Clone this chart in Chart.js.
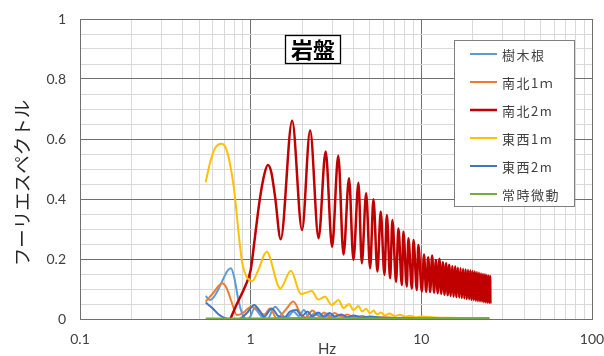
<!DOCTYPE html>
<html>
<head>
<meta charset="utf-8">
<script src="https://cdn.jsdelivr.net/npm/chart.js@4/dist/chart.umd.min.js"></script>
<style>
  html, body { margin: 0; padding: 0; background: #ffffff; }
  #wrap { width: 604px; height: 356px; position: relative; }
</style>
</head>
<body>
<div id="wrap"><canvas id="c" width="604" height="356"></canvas></div>
<script>
// Fourier spectra of the bedrock records (frequency in Hz, amplitude)
const seriesNames = ['樹木根', '南北1ｍ', '南北2m', '東西1m', '東西2m', '常時微動'];
const seriesColors = ['#5B9BD5', '#ED7D31', '#C00000', '#FFC000', '#4472C4', '#70AD47'];

const freqJumoku = [0.545, 0.577, 0.62, 0.68, 0.73, 0.766, 0.8, 0.85, 0.9, 0.95, 1.0, 1.05, 1.15, 1.25, 1.39, 1.5, 1.62, 1.78, 1.92, 2.05, 2.2, 2.4, 2.6, 2.8, 3.0, 3.3, 3.6, 4.0, 4.5, 5.0, 6.0, 8.0, 10, 15, 25];
const valJumoku  = [0.077, 0.063, 0.080, 0.125, 0.160, 0.169, 0.140, 0.060, 0.012, 0.000, 0.010, 0.035, 0.010, 0.000, 0.041, 0.020, 0.003, 0.025, 0.010, 0.030, 0.005, 0.022, 0.006, 0.018, 0.004, 0.014, 0.004, 0.010, 0.004, 0.007, 0.003, 0.004, 0.002, 0.002, 0.002];

const freqNS1 = [0.545, 0.6, 0.681, 0.72, 0.77, 0.83, 0.9, 1.0, 1.08, 1.2, 1.3, 1.42, 1.6, 1.78, 1.95, 2.1, 2.3, 2.5, 2.7, 2.9, 3.1, 3.4, 3.7, 4.0, 4.5, 5.0, 6.0, 8.0, 10, 25];
const valNS1  = [0.058, 0.085, 0.119, 0.105, 0.060, 0.013, 0.020, 0.040, 0.035, 0.015, 0.035, 0.003, 0.030, 0.058, 0.020, 0.005, 0.028, 0.010, 0.022, 0.006, 0.020, 0.008, 0.015, 0.005, 0.010, 0.004, 0.006, 0.003, 0.003, 0.002];

const freqNS2 = [0.76, 0.83, 0.93, 1.0, 1.06, 1.13, 1.2, 1.26, 1.32, 1.39, 1.5, 1.75, 2.0, 2.23, 2.5, 2.75, 3.0, 3.26, 3.5, 3.77, 4.0, 4.28, 4.48, 4.75, 5.01, 5.24, 5.53, 5.78, 6.08, 6.28, 6.56, 6.77, 7.11, 7.34, 7.69, 7.85, 8.22, 8.4, 8.8, 9.0, 9.41, 9.6, 10.07,
  10.37, 10.67, 10.97, 11.27, 11.57, 11.87, 12.17, 12.47, 12.77, 13.07, 13.37, 13.67, 13.97, 14.27, 14.57, 14.87, 15.17, 15.47, 15.77, 16.07, 16.37, 16.67, 16.97, 17.27, 17.57, 17.87, 18.17, 18.47, 18.77, 19.07, 19.37, 19.67, 19.97, 20.27, 20.57, 20.87, 21.17, 21.47, 21.77, 22.07, 22.37, 22.67, 22.97, 23.27, 23.57, 23.87, 24.17, 24.47, 24.77, 25.07, 25.3, 25.4];
const valNS2  = [0.000, 0.050, 0.110, 0.163, 0.274, 0.397, 0.480, 0.513, 0.490, 0.408, 0.266, 0.661, 0.297, 0.628, 0.269, 0.558, 0.241, 0.544, 0.215, 0.469, 0.197, 0.454, 0.186, 0.419, 0.169, 0.399, 0.158, 0.358, 0.147, 0.347, 0.136, 0.330, 0.124, 0.302, 0.113, 0.291, 0.108, 0.269, 0.102, 0.263, 0.097, 0.247, 0.092,
  0.215, 0.091, 0.206, 0.090, 0.212, 0.088, 0.197, 0.086, 0.201, 0.084, 0.189, 0.081, 0.186, 0.079, 0.181, 0.077, 0.176, 0.075, 0.175, 0.073, 0.171, 0.072, 0.169, 0.070, 0.167, 0.069, 0.165, 0.067, 0.163, 0.066, 0.162, 0.064, 0.160, 0.063, 0.158, 0.061, 0.156, 0.060, 0.154, 0.059, 0.152, 0.058, 0.150, 0.056, 0.149, 0.055, 0.147, 0.054, 0.145, 0.053, 0.143, 0.052];

const freqEW1 = [0.545, 0.577, 0.618, 0.676, 0.723, 0.774, 0.809, 0.846, 0.893, 0.947, 1.02, 1.108, 1.24, 1.49, 1.72, 1.97, 2.28, 2.49, 2.73, 2.98, 3.27, 3.5, 3.77, 4.0, 4.28, 4.5, 4.75, 5.0, 5.25, 5.5, 5.8, 6.1, 6.5, 7.0, 7.5, 8.0, 8.6, 9.2, 10, 12, 15, 20, 25];
const valEW1  = [0.456, 0.519, 0.569, 0.584, 0.563, 0.486, 0.408, 0.297, 0.186, 0.141, 0.127, 0.163, 0.224, 0.102, 0.161, 0.083, 0.093, 0.065, 0.074, 0.047, 0.063, 0.037, 0.050, 0.030, 0.043, 0.025, 0.034, 0.019, 0.028, 0.015, 0.022, 0.012, 0.018, 0.010, 0.014, 0.008, 0.011, 0.006, 0.008, 0.005, 0.004, 0.003, 0.003];

const freqEW2 = [0.545, 0.6, 0.65, 0.707, 0.75, 0.85, 0.95, 1.05, 1.12, 1.2, 1.33, 1.45, 1.58, 1.7, 1.85, 2.0, 2.15, 2.3, 2.5, 2.7, 2.9, 3.1, 3.4, 3.7, 4.0, 4.5, 5.0, 6.0, 8.0, 10, 25];
const valEW2  = [0.055, 0.035, 0.015, 0.003, 0.000, 0.000, 0.020, 0.047, 0.030, 0.008, 0.035, 0.010, 0.005, 0.025, 0.030, 0.010, 0.025, 0.008, 0.022, 0.006, 0.020, 0.008, 0.015, 0.006, 0.012, 0.005, 0.008, 0.004, 0.003, 0.002, 0.002];

const freqMicro = [0.545, 1, 2, 5, 10, 25];
const valMicro  = [0.002, 0.002, 0.003, 0.002, 0.002, 0.002];

// Axis ticks
const xGridValues = [0.1, 0.2, 0.3, 0.4, 0.5, 0.6, 0.7, 0.8, 0.9, 1, 2, 3, 4, 5, 6, 7, 8, 9, 10, 20, 30, 40, 50, 60, 70, 80, 90, 100];
const xTickLabels = ['0.1', '1', '10', '100'];
const yTickLabels = ['0', '0.2', '0.4', '0.6', '0.8', '1'];

const chartTitle = '岩盤';
const xTitle = 'Hz';
const yTitle = 'フーリエスペクトル';

const seriesFreqs = [freqJumoku, freqNS1, freqNS2, freqEW1, freqEW2, freqMicro];
const seriesVals = [valJumoku, valNS1, valNS2, valEW1, valEW2, valMicro];

const MAJOR = '#707070';
const MINOR = '#d9d9d9';
const JP = "'Noto Sans CJK JP', 'Noto Sans', sans-serif";

const isDecade = v => Math.abs(Math.log10(v) - Math.round(Math.log10(v))) < 1e-6;
const isYMajor = v => Math.round(v * 100) % 20 === 0;

const datasets = seriesNames.map((name, i) => ({
  label: name,
  data: seriesFreqs[i].map((f, k) => ({ x: f, y: seriesVals[i][k] })),
  borderColor: seriesColors[i],
  backgroundColor: seriesColors[i],
  borderWidth: i === 2 ? 2.5 : 2,
  pointRadius: 0,
  fill: false,
  cubicInterpolationMode: 'monotone',
  order: seriesNames.length - i
}));

// Legend, title box and axis titles
const decorations = {
  id: 'decorations',
  afterDraw(chart) {
    const ctx = chart.ctx;
    ctx.save();

    // legend
    ctx.fillStyle = '#ffffff';
    ctx.fillRect(454.5, 40.5, 120, 166);
    ctx.strokeStyle = '#7f7f7f';
    ctx.lineWidth = 1;
    ctx.strokeRect(454.5, 40.5, 120, 166);
    ctx.font = '13px ' + JP;
    ctx.textBaseline = 'middle';
    ctx.textAlign = 'left';
    if ('letterSpacing' in ctx) ctx.letterSpacing = '1.5px';
    seriesNames.forEach((name, i) => {
      const y = 54 + i * 28;
      ctx.strokeStyle = seriesColors[i];
      ctx.lineWidth = i === 2 ? 2.5 : 2;
      ctx.beginPath();
      ctx.moveTo(470, y);
      ctx.lineTo(497, y);
      ctx.stroke();
      ctx.fillStyle = '#404040';
      ctx.fillText(name, 502, y + 1);
    });
    if ('letterSpacing' in ctx) ctx.letterSpacing = '0px';

    // title box
    ctx.fillStyle = '#ffffff';
    ctx.fillRect(285.5, 35.5, 55, 28);
    ctx.strokeStyle = '#000000';
    ctx.lineWidth = 1.3;
    ctx.strokeRect(285.5, 35.5, 55, 28);
    ctx.fillStyle = '#000000';
    ctx.font = 'bold 22px ' + JP;
    ctx.textAlign = 'center';
    ctx.textBaseline = 'middle';
    ctx.fillText(chartTitle, 313, 50);

    // axis titles
    ctx.fillStyle = '#404040';
    ctx.font = '15px Lato, sans-serif';
    ctx.fillText(xTitle, 327, 349);

    ctx.translate(22, 183);
    ctx.rotate(-Math.PI / 2);
    ctx.font = '18.5px ' + JP;
    ctx.fillStyle = '#262626';
    ctx.fillText(yTitle, 0, 0);
    ctx.restore();
  }
};

new Chart(document.getElementById('c'), {
  type: 'line',
  data: { datasets },
  options: {
    responsive: false,
    animation: false,
    devicePixelRatio: 1,
    layout: { padding: { top: 19, right: 12, left: 0, bottom: 0 } },
    plugins: { legend: { display: false }, tooltip: { enabled: false } },
    scales: {
      x: {
        type: 'logarithmic',
        min: 0.1,
        max: 100,
        afterBuildTicks(scale) {
          scale.ticks = xGridValues.map(v => ({ value: v, major: isDecade(v) }));
        },
        afterFit(scale) {
          scale.height = 37;
          scale.paddingLeft = 0;
          scale.paddingRight = 0;
        },
        ticks: {
          autoSkip: false,
          maxRotation: 0,
          padding: 12,
          color: '#404040',
          font: { family: 'Lato, sans-serif', size: 14 },
          callback(value) {
            if (!isDecade(value)) return '';
            const idx = Math.round(Math.log10(value)) + 1;
            return xTickLabels[idx];
          }
        },
        grid: {
          drawTicks: false,
          color: c => (c.tick && isDecade(c.tick.value)) ? MAJOR : MINOR,
          lineWidth: 1
        },
        border: { color: MAJOR }
      },
      y: {
        min: 0,
        max: 1,
        afterFit(scale) {
          scale.width = 80;
          scale.paddingTop = 0;
          scale.paddingBottom = 0;
        },
        ticks: {
          stepSize: 0.05,
          autoSkip: false,
          padding: 14,
          color: '#404040',
          font: { family: 'Lato, sans-serif', size: 14 },
          callback(value) {
            if (!isYMajor(value)) return '';
            return yTickLabels[Math.round(value * 5)];
          }
        },
        grid: {
          drawTicks: false,
          color: c => (c.tick && isYMajor(c.tick.value)) ? MAJOR : MINOR,
          lineWidth: 1
        },
        border: { color: MAJOR }
      }
    }
  },
  plugins: [decorations]
});
</script>
</body>
</html>
